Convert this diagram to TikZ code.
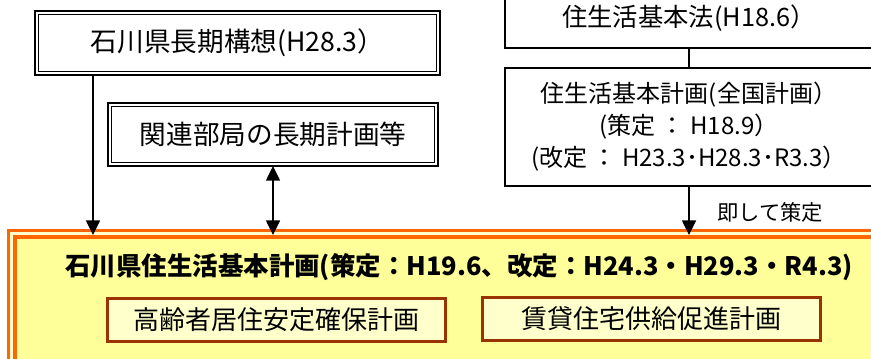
\documentclass[tikz,border=0pt]{standalone}
\usepackage{fontspec}
\newfontfamily\jp{Noto Sans CJK JP}
\usetikzlibrary{arrows.meta}
\definecolor{orng}{HTML}{FF6600}
\definecolor{ylw}{HTML}{FFFF99}
\definecolor{pale}{HTML}{FFFFCC}
\definecolor{brn}{HTML}{993300}
\tikzset{
  dblbox/.style={draw=black, line width=1.5pt, fill=white, outer sep=0pt, inner sep=0pt, font=\jp\fontsize{20pt}{23pt}\selectfont},
  innerline/.style={draw=black, line width=0.75pt},
  plainbox/.style={draw=black, line width=1.5pt, fill=white, outer sep=0pt, inner sep=0pt, font=\jp\fontsize{18pt}{23pt}\selectfont, align=center},
  subbox/.style={draw=brn, line width=2.25pt, fill=pale, outer sep=0pt, inner sep=0pt, font=\jp\fontsize{19.5pt}{23pt}\selectfont},
  arr/.style={line width=1.1pt, -{Triangle[width=10.5pt,length=11pt]}},
  darr/.style={line width=1.1pt, {Triangle[width=10.5pt,length=11pt]}-{Triangle[width=10.5pt,length=11pt]}},
  conn/.style={line width=1pt}
}
\begin{document}
\begin{tikzpicture}[x=0.75pt,y=-0.75pt]
\useasboundingbox (0,0) rectangle (871,358);
\clip (0,0) rectangle (871,358);
\fill[white] (0,0) rectangle (871,358);
% orange frame
\node[draw=orng, line width=2.25pt, fill=pale, outer sep=0pt, minimum width=880*0.75pt, minimum height=140*0.75pt, anchor=north west] (frame) at (8.8,230.5) {};
\node[draw=orng, line width=3pt, fill=ylw, outer sep=0pt, minimum width=870*0.75pt, minimum height=130*0.75pt, anchor=north west] (plan) at (15.3,237) {};
% boxes
\node[dblbox, minimum width=405*0.75pt, minimum height=64*0.75pt] (b1) at (237.5,43) {石川県長期構想(H28.3）};
\draw[innerline] ([shift={(2.6pt,-2.6pt)}]b1.north west) rectangle ([shift={(-2.6pt,2.6pt)}]b1.south east);
\node[dblbox, minimum width=330*0.75pt, minimum height=63*0.75pt] (b2) at (273,134.5) {関連部局の長期計画等};
\draw[innerline] ([shift={(2.6pt,-2.6pt)}]b2.north west) rectangle ([shift={(-2.6pt,2.6pt)}]b2.south east);
\node[plainbox, minimum width=368*0.75pt, minimum height=60*0.75pt, font=\jp\fontsize{19pt}{23pt}\selectfont] (b3) at (689,18) {住生活基本法(H18.6）};
\node[plainbox, minimum width=368*0.75pt, minimum height=118*0.75pt] (b4) at (689,127) {住生活基本計画(全国計画）\\[1pt](策定 ： H18.9）\\[1pt](改定 ： H23.3･H28.3･R3.3）};
\draw[conn] (b3.south) -- (b4.north);
% title and sub plans
\node[anchor=west, inner sep=0pt, font=\jp\bfseries\fontsize{19.1pt}{23pt}\selectfont] (title) at (65,267) {石川県住生活基本計画(策定：H19.6、改定：H24.3・H29.3・R4.3)};
\node[subbox, minimum width=338*0.75pt, minimum height=43*0.75pt] (s1) at (276.5,320) {高齢者居住安定確保計画};
\node[subbox, minimum width=338*0.75pt, minimum height=43*0.75pt] (s2) at (651.5,319) {賃貸住宅供給促進計画};
% arrows
\coordinate (a1) at (93,0);
\draw[arr] (a1 |- b1.south) -- ([yshift=1.5pt]a1 |- plan.north);
\draw[darr] (b2.south) -- ([yshift=1.5pt]b2.south |- plan.north);
\draw[arr] (b4.south) -- ([yshift=1.5pt]b4.south |- plan.north);
\node[anchor=west, inner sep=0pt, font=\jp\fontsize{16pt}{19pt}\selectfont] (lbl) at (717,212) {即して策定};
\end{tikzpicture}
\end{document}
